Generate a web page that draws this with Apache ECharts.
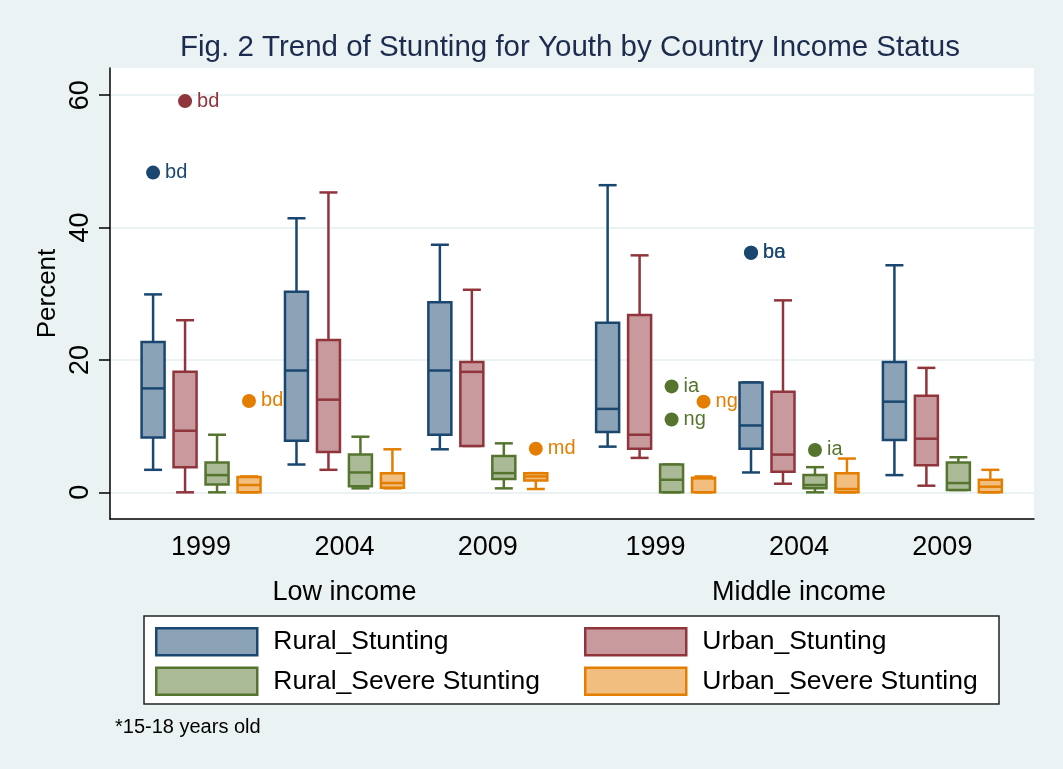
<!DOCTYPE html>
<html>
<head>
<meta charset="utf-8">
<style>
  html, body { margin: 0; padding: 0; background: #eaf2f3; }
  #chart { width: 1063px; height: 769px; }
</style>
<script src="https://cdn.jsdelivr.net/npm/echarts@6/dist/echarts.min.js"></script>
</head>
<body>
<div id="chart"></div>
<script>
// Survey years shown under each cluster of boxes, and the income groups they belong to
const yearLabels = ['1999', '2004', '2009', '1999', '2004', '2009'];
const incomeLabels = ['Low income', 'Middle income'];
const yTicks = [0, 20, 40, 60];

// Box statistics per survey: [lower whisker, Q1, median, Q3, upper whisker] (percent)
const ruralStunting = [
  [3.4, 8.3, 15.7, 22.7, 29.9],
  [4.2, 7.8, 18.4, 30.3, 41.4],
  [6.5, 8.7, 18.4, 28.7, 37.4],
  [6.9, 9.1, 12.6, 25.6, 46.4],
  [3.0, 6.6, 10.1, 16.6, 16.6],
  [2.6, 7.9, 13.7, 19.7, 34.3]
];
const urbanStunting = [
  [0.0, 3.8, 9.3, 18.2, 26.0],
  [3.4, 6.1, 14.0, 23.0, 45.3],
  [7.0, 7.0, 18.2, 19.7, 30.6],
  [5.2, 6.6, 8.7, 26.8, 35.8],
  [1.3, 3.1, 5.7, 15.2, 29.0],
  [1.0, 4.1, 8.1, 14.6, 18.8]
];
const ruralSevere = [
  [0.0, 1.2, 2.6, 4.5, 8.7],
  [0.6, 0.9, 3.0, 5.7, 8.4],
  [0.6, 2.0, 2.9, 5.5, 7.4],
  [0.0, 0.0, 1.9, 4.2, 4.2],
  [0.0, 0.6, 1.1, 2.6, 3.8],
  [0.35, 0.35, 1.4, 4.5, 5.3]
];
const urbanSevere = [
  [0.0, 0.0, 1.1, 2.3, 2.4],
  [0.6, 0.7, 1.4, 2.9, 6.5],
  [0.5, 1.8, 2.4, 2.9, 2.9],
  [0.0, 0.0, 2.1, 2.2, 2.4],
  [0.0, 0.0, 0.5, 2.9, 5.1],
  [0.0, 0.0, 0.85, 1.9, 3.4]
];

// Outside values: [survey index, percent, country code]
const ruralStuntingOut = [[0, 48.3, 'bd'], [4, 36.2, 'ba'], [4, 36.2, 'bo']];
const urbanStuntingOut = [[0, 59.1, 'bd']];
const ruralSevereOut = [[3, 16.0, 'ia'], [3, 11.0, 'ng'], [4, 6.4, 'ia']];
const urbanSevereOut = [[0, 13.8, 'bd'], [2, 6.6, 'md'], [3, 13.7, 'ng']];

const seriesDefs = [
  { name: 'Rural_Stunting', stats: ruralStunting, out: ruralStuntingOut, line: '#1a476f', fill: '#8ca3b7' },
  { name: 'Urban_Stunting', stats: urbanStunting, out: urbanStuntingOut, line: '#90353b', fill: '#c89a9d' },
  { name: 'Rural_Severe Stunting', stats: ruralSevere, out: ruralSevereOut, line: '#55752f', fill: '#aaba97' },
  { name: 'Urban_Severe Stunting', stats: urbanSevere, out: urbanSevereOut, line: '#e37e00', fill: '#f1be80' }
];

// Layout on the hidden numeric x scale: one unit per survey, extra space between income groups
const INCOME_GAP = 0.17;
const BOX_STEP = 0.223;
function surveyPos(i) { return i + (i >= 3 ? INCOME_GAP : 0); }
function boxPos(i, k) { return surveyPos(i) + (k - 1.5) * BOX_STEP; }
const surveyPositions = yearLabels.map((_, i) => surveyPos(i));
const incomePositions = [
  (surveyPos(0) + surveyPos(2)) / 2,
  (surveyPos(3) + surveyPos(5)) / 2
];

const BOX_W = 23, CAP_W = 18, LW = 2.5;
const FONT = '"Liberation Sans", Arial, sans-serif';

function makeBoxRenderer(line, fill) {
  return function (params, api) {
    const x = api.value(0);
    const pLow = api.coord([x, api.value(1)]);
    const pQ1 = api.coord([x, api.value(2)]);
    const pMed = api.coord([x, api.value(3)]);
    const pQ3 = api.coord([x, api.value(4)]);
    const pHigh = api.coord([x, api.value(5)]);
    const cx = pLow[0];
    const stroke = { stroke: line, lineWidth: LW, fill: null };
    return {
      type: 'group',
      children: [
        { type: 'line', shape: { x1: cx, y1: pQ3[1], x2: cx, y2: pHigh[1] }, style: stroke },
        { type: 'line', shape: { x1: cx, y1: pQ1[1], x2: cx, y2: pLow[1] }, style: stroke },
        { type: 'line', shape: { x1: cx - CAP_W / 2, y1: pHigh[1], x2: cx + CAP_W / 2, y2: pHigh[1] }, style: stroke },
        { type: 'line', shape: { x1: cx - CAP_W / 2, y1: pLow[1], x2: cx + CAP_W / 2, y2: pLow[1] }, style: stroke },
        { type: 'rect', shape: { x: cx - BOX_W / 2, y: pQ3[1], width: BOX_W, height: pQ1[1] - pQ3[1] },
          style: { fill: fill, stroke: line, lineWidth: LW } },
        { type: 'line', shape: { x1: cx - BOX_W / 2, y1: pMed[1], x2: cx + BOX_W / 2, y2: pMed[1] }, style: stroke }
      ]
    };
  };
}

const series = [];
seriesDefs.forEach((d, k) => {
  series.push({
    name: d.name,
    type: 'custom',
    xAxisIndex: 0,
    itemStyle: { color: d.fill, borderColor: d.line, borderWidth: 2 },
    encode: { x: 0, y: [1, 2, 3, 4, 5] },
    renderItem: makeBoxRenderer(d.line, d.fill),
    data: d.stats.map((s, i) => [boxPos(i, k)].concat(s)),
    z: 3
  });
});
seriesDefs.forEach((d, k) => {
  series.push({
    name: d.name + ' (outside values)',
    type: 'scatter',
    xAxisIndex: 0,
    symbol: 'circle',
    symbolSize: 14,
    itemStyle: { color: d.line, opacity: 1 },
    label: {
      show: true,
      position: 'right',
      distance: 5,
      formatter: p => p.data[2],
      color: d.line,
      fontSize: 20,
      fontFamily: FONT
    },
    data: d.out.map(o => [boxPos(o[0], k), o[1], o[2]]),
    z: 4
  });
});

// Two legend columns sharing one framed box
function legendColumn(left, names) {
  return {
    left: left, top: 627,
    orient: 'vertical',
    selectedMode: false,
    padding: 0,
    itemWidth: 101,
    itemHeight: 27,
    itemGap: 10,
    textStyle: { fontSize: 26.5, color: '#000', padding: [0, 0, 0, 11] },
    data: names.map(n => {
      const d = seriesDefs.find(s => s.name === n);
      return { name: n, icon: 'rect', itemStyle: { color: d.fill, borderColor: d.line, borderWidth: 2.5 } };
    })
  };
}

const chart = echarts.init(document.getElementById('chart'), null, { renderer: 'canvas' });
chart.setOption({
  backgroundColor: '#eaf2f3',
  animation: false,
  textStyle: { fontFamily: FONT },
  grid: { left: 110, right: 29, top: 68, bottom: 250, show: true, backgroundColor: '#ffffff', borderWidth: 0 },
  xAxis: [
    {
      type: 'value', min: -0.635, max: 5.809,
      axisLine: { show: true, onZero: false, lineStyle: { color: '#000', width: 1.5 } },
      axisTick: { show: false },
      splitLine: { show: false },
      axisLabel: {
        customValues: surveyPositions,
        margin: 15,
        fontSize: 27,
        color: '#000',
        formatter: v => yearLabels[surveyPositions.findIndex(p => Math.abs(p - v) < 1e-6)]
      }
    },
    {
      type: 'value', min: -0.635, max: 5.809, position: 'bottom',
      axisLine: { show: false },
      axisTick: { show: false },
      splitLine: { show: false },
      axisLabel: {
        customValues: incomePositions,
        margin: 60,
        fontSize: 27,
        color: '#000',
        formatter: v => incomeLabels[incomePositions.findIndex(p => Math.abs(p - v) < 1e-6)]
      }
    }
  ],
  yAxis: {
    type: 'value', min: -4.03, max: 64.1,
    name: 'Percent',
    nameLocation: 'middle',
    nameGap: 49,
    nameMoveOverlap: false,
    nameRotate: 90,
    nameTextStyle: { fontSize: 26, color: '#000' },
    axisLine: { show: true, onZero: false, lineStyle: { color: '#000', width: 1.5 } },
    axisTick: { show: true, inside: false, length: 11, customValues: yTicks, lineStyle: { color: '#000', width: 1.5 } },
    splitLine: { show: true, lineStyle: { color: '#eaf2f3', width: 2 } },
    axisLabel: { customValues: yTicks, rotate: 90, margin: 16, fontSize: 27, color: '#000' }
  },
  legend: [
    legendColumn(155, ['Rural_Stunting', 'Rural_Severe Stunting']),
    legendColumn(584, ['Urban_Stunting', 'Urban_Severe Stunting'])
  ],
  graphic: [
    {
      type: 'rect', z: -1,
      shape: { x: 144, y: 616, width: 855, height: 88 },
      style: { fill: '#ffffff', stroke: '#222', lineWidth: 1.5 }
    },
    {
      type: 'text', x: 570, y: 48,
      style: {
        text: 'Fig. 2 Trend of Stunting for Youth by Country Income Status',
        font: '29.5px ' + FONT, fill: '#1c2b4e',
        textAlign: 'center', textVerticalAlign: 'middle'
      }
    },
    {
      type: 'text', x: 115, y: 727,
      style: {
        text: '*15-18 years old',
        font: '20px ' + FONT, fill: '#000',
        textAlign: 'left', textVerticalAlign: 'middle'
      }
    }
  ],
  series: series
});
</script>
</body>
</html>
